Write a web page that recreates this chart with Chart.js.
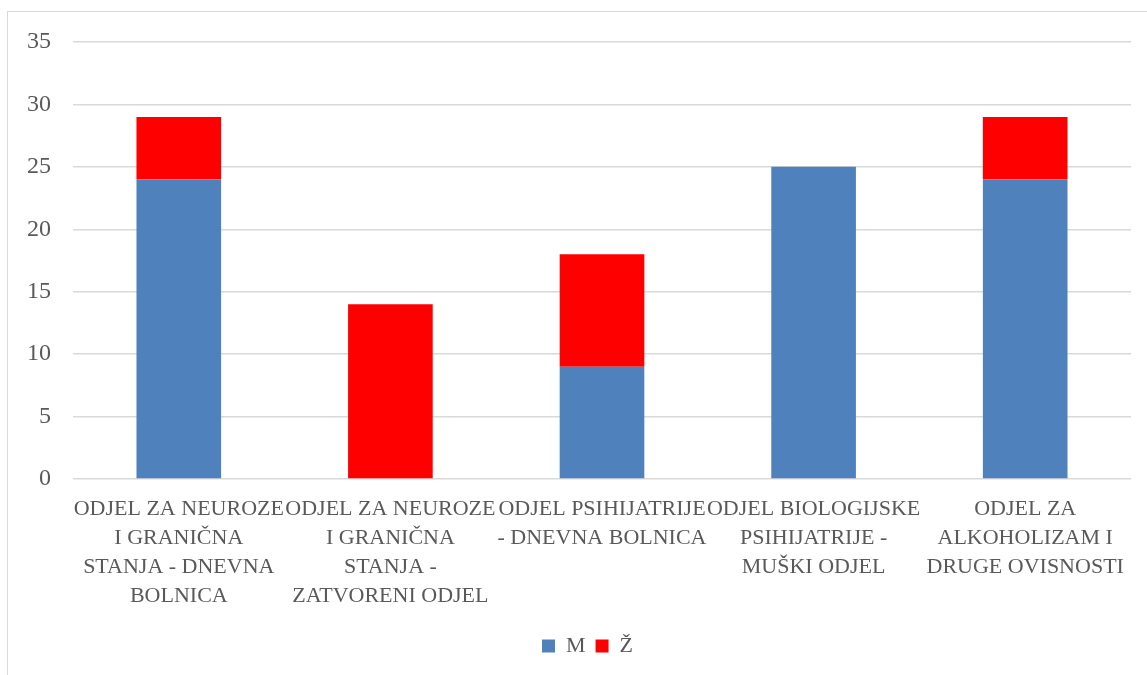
<!DOCTYPE html>
<html><head><meta charset="utf-8">
<script src="https://cdn.jsdelivr.net/npm/chart.js@4/dist/chart.umd.min.js"></script>
<style>
html,body{margin:0;padding:0;background:#fff;overflow:hidden}
#wrap{position:absolute;left:0;top:0;width:1147px;height:675px}
#frame{position:absolute;left:7px;top:11px;width:1160px;height:700px;border:1px solid #d9d9d9;pointer-events:none}
</style></head>
<body>
<div id="wrap"><canvas id="c" width="1147" height="675"></canvas></div>
<div id="frame"></div>
<script>
const categories = [
  ["ODJEL ZA NEUROZE","I GRANIČNA","STANJA - DNEVNA","BOLNICA"],
  ["ODJEL ZA NEUROZE","I GRANIČNA","STANJA -","ZATVORENI ODJEL"],
  ["ODJEL PSIHIJATRIJE","- DNEVNA BOLNICA"],
  ["ODJEL BIOLOGIJSKE","PSIHIJATRIJE -","MUŠKI ODJEL"],
  ["ODJEL ZA","ALKOHOLIZAM I","DRUGE OVISNOSTI"]
];
const seriesNames = ["M","Ž"];
const valuesM = [24, 0, 9, 25, 24];
const valuesZ = [5, 14, 9, 0, 5];
const yTicks = [0,5,10,15,20,25,30,35];

const FONT = "'Liberation Serif', serif";
const TXT = "#595959";

const legendShift = {
  id: 'legendShift',
  afterLayout(chart) {
    const l = chart.legend;
    if (l) { l.left += 22; l.right += 22; }
  }
};

new Chart(document.getElementById('c'), {
  type: 'bar',
  data: {
    labels: categories,
    datasets: [
      {label: seriesNames[0], data: valuesM, backgroundColor: '#4f81bd', borderWidth: 0},
      {label: seriesNames[1], data: valuesZ, backgroundColor: '#ff0000', borderWidth: 0}
    ]
  },
  plugins: [legendShift],
  options: {
    responsive: false,
    animation: false,
    layout: {padding: {top: 42, right: 16, left: 0, bottom: 8}},
    datasets: {bar: {categoryPercentage: 1.0, barPercentage: 0.4}},
    plugins: {
      tooltip: {enabled: false},
      legend: {
        position: 'bottom',
        labels: {
          font: {family: FONT, size: 22},
          color: TXT,
          boxWidth: 13, boxHeight: 13,
          padding: 10
        }
      }
    },
    scales: {
      x: {
        stacked: true,
        grid: {display: false, drawTicks: false},
        border: {display: false},
        ticks: {
          autoSkip: false, maxRotation: 0, minRotation: 0,
          font: {family: FONT, size: 22, lineHeight: 1.32},
          color: TXT, padding: 16
        },
        afterFit: s => { s.height = 146; }
      },
      y: {
        stacked: true,
        min: 0, max: 35,
        afterBuildTicks: s => { s.ticks = yTicks.map(v => ({value: v})); },
        grid: {color: '#d9d9d9', lineWidth: 1.5, drawTicks: false},
        border: {display: false},
        ticks: {font: {family: FONT, size: 24}, color: TXT, padding: 22},
        afterFit: s => { s.width = 73; }
      }
    }
  }
});
</script>
</body></html>
